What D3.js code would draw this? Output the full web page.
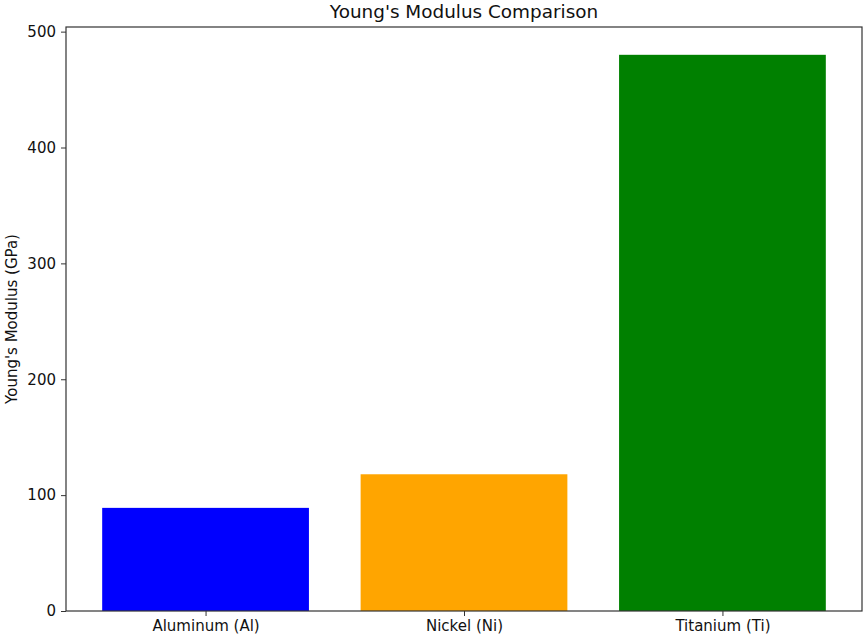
<!DOCTYPE html>
<html>
<head>
<meta charset="utf-8">
<script src="https://cdn.jsdelivr.net/npm/d3@7"></script>
<style>
    body { margin: 0; background: #fff; }
    text { font-family: "DejaVu Sans", sans-serif; fill: #111; }
</style>
</head>
<body>
<div id="chart"></div>
<script>
'use strict';

// chart data
var materials = ["Aluminum (Al)", "Nickel (Ni)", "Titanium (Ti)"];
var modulus = [89, 118, 480];
var barColors = ["#0000ff", "#ffa500", "#008000"];
var yTicks = [0, 100, 200, 300, 400, 500];

var width = 865, height = 639;
var margin = {top: 27, right: 3, bottom: 28, left: 66};
var innerW = width - margin.left - margin.right;
var innerH = height - margin.top - margin.bottom;

var svg = d3.select("#chart").append("svg")
    .attr("width", width)
    .attr("height", height);

var g = svg.append("g")
    .attr("transform", "translate(" + margin.left + "," + margin.top + ")");

// matplotlib style limits: bars of width 0.8, 5% margins
var x = d3.scaleLinear()
    .domain([-0.54, materials.length - 1 + 0.54])
    .range([0, innerW]);
var barW = x(0.8) - x(0);

var yMax = d3.max(modulus) * 1.05;
var y = d3.scaleLinear().domain([0, yMax]).range([innerH, 0]);

// bars
g.selectAll(".bar")
    .data(modulus)
    .enter().append("rect")
    .attr("class", "bar")
    .attr("x", function(d, i) { return x(i) - barW / 2; })
    .attr("y", function(d) { return y(d); })
    .attr("width", barW)
    .attr("height", function(d) { return innerH - y(d); })
    .attr("fill", function(d, i) { return barColors[i]; });

// x axis
var xAxis = g.append("g")
    .attr("transform", "translate(0," + innerH + ")")
    .call(d3.axisBottom(x)
        .tickValues(d3.range(materials.length))
        .tickFormat(function(i) { return materials[i]; })
        .tickSizeOuter(0)
        .tickSize(5)
        .tickPadding(4));

// y axis
var yAxis = g.append("g")
    .call(d3.axisLeft(y)
        .tickValues(yTicks)
        .tickSizeOuter(0)
        .tickSize(5)
        .tickPadding(5));

[xAxis, yAxis].forEach(function(a) {
    a.select(".domain").remove();
    a.selectAll("line").attr("stroke", "#333");
    a.selectAll("text").style("font-size", "15px").attr("fill", "#111");
});

// frame
g.append("rect")
    .attr("width", innerW)
    .attr("height", innerH)
    .attr("fill", "none")
    .attr("stroke", "#333")
    .attr("stroke-width", 1.2);

// title
svg.append("text")
    .attr("x", margin.left + innerW / 2)
    .attr("y", 18)
    .attr("text-anchor", "middle")
    .style("font-size", "18.4px")
    .text("Young's Modulus Comparison");

// y label
svg.append("text")
    .attr("transform", "translate(17," + (margin.top + innerH / 2) + ") rotate(-90)")
    .attr("text-anchor", "middle")
    .style("font-size", "15px")
    .text("Young's Modulus (GPa)");
</script>
</body>
</html>
